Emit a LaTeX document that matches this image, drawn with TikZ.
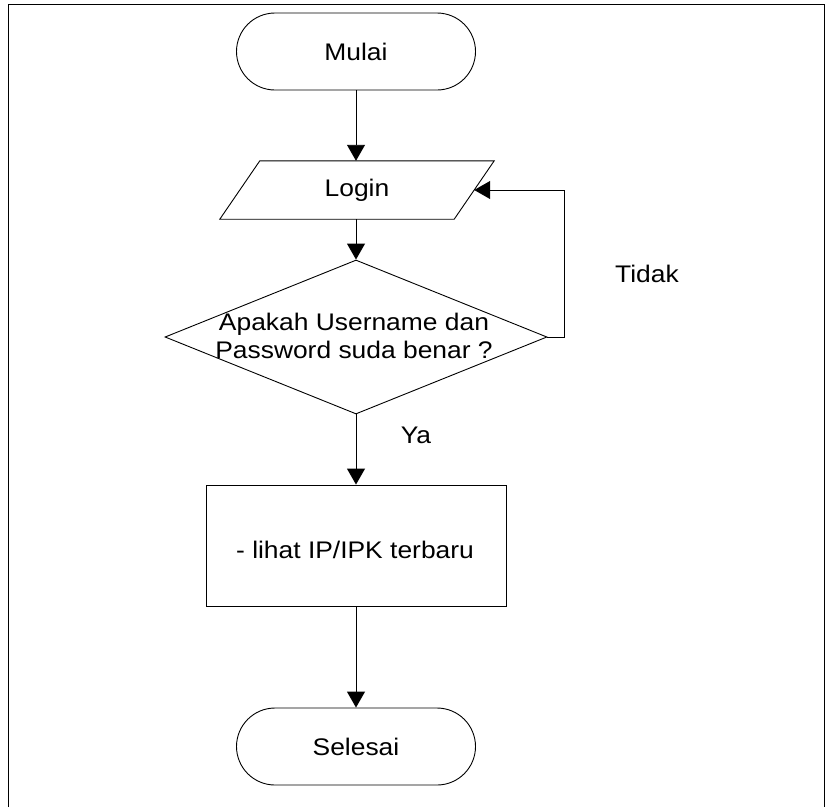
\documentclass[tikz,border=0pt]{standalone}
\usepackage{fontspec}
\setmainfont{Liberation Sans}[FakeStretch=1.1]
\usetikzlibrary{arrows.meta,shapes.geometric,shapes.misc,positioning}
\tikzset{
  shp/.style={draw=black, line width=0.9pt, inner sep=0pt},
  term/.style={shp, rounded rectangle, minimum width=239pt, minimum height=77pt},
  iobox/.style={inner sep=0pt, minimum width=234pt, minimum height=58pt},
  dec/.style={shp, diamond, minimum width=382pt, minimum height=154pt},
  proc/.style={shp, rectangle, minimum width=300pt, minimum height=121pt},
  lbl/.style={font=\fontsize{24}{28}\selectfont, inner sep=0pt, align=center},
  arr/.style={line width=0.9pt, -{Triangle[width=18pt,length=16pt]}},
  frame/.style={line width=1pt}
}
\begin{document}
\begin{tikzpicture}[x=1pt,y=-1pt]
\useasboundingbox (0,0) rectangle (830,807);
\draw[frame] (8,807) -- (8,4) -- (824,4) -- (824,807);

\node[term] (mulai) at (356,51.5) {};
\node[lbl] (tmulai) at (mulai.center) {Mulai};

\node[iobox] (login) at (357,190) {};
\draw[line width=0.9pt] ([xshift=-20pt]login.south west) -- ([xshift=-20pt]login.south east)
  -- ([xshift=20pt]login.north east) -- ([xshift=20pt]login.north west) -- cycle;
\node[lbl] (tlogin) at (login.center) {Login};

\node[dec] (cek) at (356,337) {};
\node[lbl] (tcek) at (354,336) {Apakah Username dan\\Password suda benar ?};

\node[proc] (lihat) at (356,545.5) {};
\node[lbl] (tlihat) at (355,550) {- lihat IP/IPK terbaru};

\node[term] (selesai) at (356,746.5) {};
\node[lbl] (tselesai) at (selesai.center) {Selesai};

\node[lbl] (tidak) at (647,274) {Tidak};
\node[lbl] (ya) at (416,435) {Ya};

\draw[arr] (mulai.south) -- (mulai.south |- login.north);
\draw[arr] (mulai.south |- login.south) -- (cek.north);
\draw[arr] (cek.south) -- (lihat.north);
\draw[arr] (lihat.south) -- (selesai.north);
\draw[arr] (cek.east) -- ++(17,0) |- (login.east);
\end{tikzpicture}
\end{document}
